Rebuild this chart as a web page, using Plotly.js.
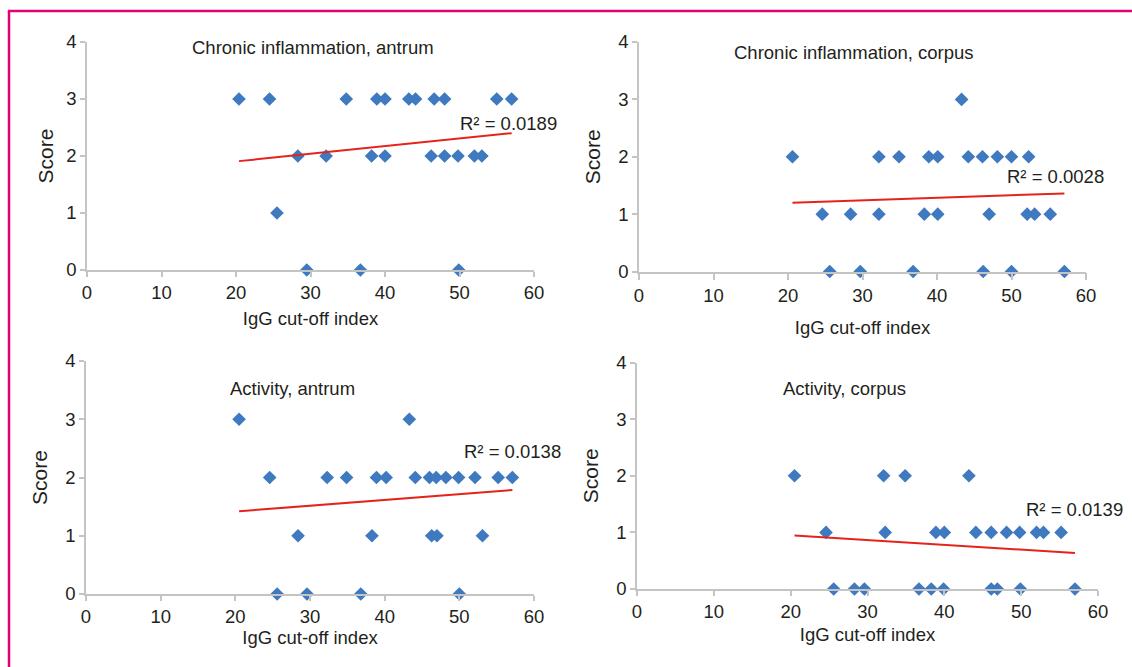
<!DOCTYPE html>
<html>
<head>
<meta charset="utf-8">
<script src="https://cdn.plot.ly/plotly-3.0.1.min.js"></script>
<style>
html,body{margin:0;padding:0;background:#fff;}
#chart{width:1132px;height:667px;}
</style>
</head>
<body>
<div id="chart"></div>
<script>
// ---- Data ----
const panelTitles = ["Chronic inflammation, antrum", "Chronic inflammation, corpus", "Activity, antrum", "Activity, corpus"];
const r2Labels = ["R\u00B2 = 0.0189", "R\u00B2 = 0.0028", "R\u00B2 = 0.0138", "R\u00B2 = 0.0139"];
const xTickVals = [0, 10, 20, 30, 40, 50, 60];
const yTickVals = [0, 1, 2, 3, 4];
const xAxisTitle = "IgG cut-off index";
const yAxisTitle = "Score";

// Chronic inflammation, antrum
const ciAntrumX = [20.4, 24.5, 34.8, 38.9, 40.0, 43.2, 44.1, 46.6, 48.0, 55.0, 57.0,
                   28.3, 32.1, 38.2, 40.0, 46.2, 48.0, 49.8, 52.0, 53.0,
                   25.5,
                   29.5, 36.7, 49.9];
const ciAntrumY = [3, 3, 3, 3, 3, 3, 3, 3, 3, 3, 3,
                   2, 2, 2, 2, 2, 2, 2, 2, 2,
                   1,
                   0, 0, 0];
const ciAntrumTrendX = [20.4, 57.0];
const ciAntrumTrendY = [1.91, 2.40];

// Chronic inflammation, corpus
const ciCorpusX = [43.3,
                   20.6, 32.2, 34.9, 38.9, 40.1, 44.2, 46.1, 48.1, 50.0, 52.3,
                   24.6, 28.4, 32.2, 38.3, 40.1, 47.0, 52.1, 53.1, 55.2,
                   25.6, 29.7, 36.8, 46.2, 50.0, 57.1];
const ciCorpusY = [3,
                   2, 2, 2, 2, 2, 2, 2, 2, 2, 2,
                   1, 1, 1, 1, 1, 1, 1, 1, 1,
                   0, 0, 0, 0, 0, 0];
const ciCorpusTrendX = [20.6, 57.1];
const ciCorpusTrendY = [1.20, 1.36];

// Activity, antrum
const actAntrumX = [20.5, 43.3,
                    24.6, 32.3, 34.9, 38.9, 40.2, 44.1, 46.0, 46.9, 48.2, 49.9, 52.1, 55.2, 57.1,
                    28.4, 38.3, 46.3, 47.0, 53.1,
                    25.6, 29.6, 36.8, 50.0];
const actAntrumY = [3, 3,
                    2, 2, 2, 2, 2, 2, 2, 2, 2, 2, 2, 2, 2,
                    1, 1, 1, 1, 1,
                    0, 0, 0, 0];
const actAntrumTrendX = [20.5, 57.1];
const actAntrumTrendY = [1.42, 1.785];

// Activity, corpus
const actCorpusX = [20.5, 32.1, 34.9, 43.2,
                    24.6, 32.3, 38.9, 40.0, 44.1, 46.1, 48.1, 49.8, 52.0, 52.9, 55.2,
                    25.6, 28.3, 29.6, 36.7, 38.3, 39.9, 46.1, 46.9, 49.9, 57.0];
const actCorpusY = [2, 2, 2, 2,
                    1, 1, 1, 1, 1, 1, 1, 1, 1, 1, 1,
                    0, 0, 0, 0, 0, 0, 0, 0, 0, 0];
const actCorpusTrendX = [20.5, 57.0];
const actCorpusTrendY = [0.944, 0.637];

// ---- Styling ----
const FONT = "Liberation Sans, Arial, Helvetica, sans-serif";
const markerColor = "#3f79bf";
const trendColor = "#e3241b";
const axisColor = "#c4c4c4";
const textColor = "#231f20";
const W = 1132, H = 667;

const panels = [
  {x: ciAntrumX, y: ciAntrumY, tx: ciAntrumTrendX, ty: ciAntrumTrendY},
  {x: ciCorpusX, y: ciCorpusY, tx: ciCorpusTrendX, ty: ciCorpusTrendY},
  {x: actAntrumX, y: actAntrumY, tx: actAntrumTrendX, ty: actAntrumTrendY},
  {x: actCorpusX, y: actCorpusY, tx: actCorpusTrendX, ty: actCorpusTrendY}
];

// pixel boxes of plot areas [left, right, top, bottom]
const boxes = [
  [87, 534, 42, 270],
  [639, 1086, 42, 271.5],
  [86, 534, 361, 594],
  [637, 1098, 362.5, 589]
];
const titlePos = [[313, 47], [854, 52], [292, 388], [844, 388]];
const r2Pos = [[458, 123], [1005, 176], [462, 452], [1024, 509]];
const xStandoff = [10, 16, 5, 7];
const yStandoff = [7, 12, 12, 12];
const xTickLen = [5, 7, 5, 5];

const traces = [];
const layout = {
  width: W, height: H,
  margin: {l: 0, r: 0, t: 0, b: 0},
  paper_bgcolor: "#ffffff",
  plot_bgcolor: "rgba(0,0,0,0)",
  showlegend: false,
  font: {family: FONT, color: textColor, size: 18},
  annotations: [],
  shapes: [
    {type: "line", xref: "paper", yref: "paper", x0: 9/W, x1: 9/W, y0: 0, y1: 1 - 11/H,
     line: {color: "#e2007a", width: 2.5}},
    {type: "line", xref: "paper", yref: "paper", x0: 9/W - 0.001, x1: 1, y0: 1 - 11/H, y1: 1 - 11/H,
     line: {color: "#e2007a", width: 2.5}}
  ]
};

panels.forEach((p, i) => {
  const n = i === 0 ? "" : String(i + 1);
  const xa = "x" + n, ya = "y" + n;
  traces.push({
    type: "scatter", mode: "markers", x: p.x, y: p.y, xaxis: xa, yaxis: ya,
    marker: {symbol: "diamond", size: 10.5, color: markerColor, line: {width: 0}},
    cliponaxis: false, hoverinfo: "x+y"
  });
  traces.push({
    type: "scatter", mode: "lines", x: p.tx, y: p.ty, xaxis: xa, yaxis: ya,
    line: {color: trendColor, width: 2}, cliponaxis: false, hoverinfo: "skip"
  });
  const b = boxes[i];
  layout["xaxis" + n] = {
    domain: [b[0] / W, b[1] / W], anchor: ya, range: [0, 60],
    tickmode: "array", tickvals: xTickVals, ticktext: xTickVals.map(String),
    showgrid: false, zeroline: false, showline: true, linecolor: axisColor, linewidth: 1.5,
    ticks: "outside", ticklen: xTickLen[i], tickcolor: axisColor, tickwidth: 1.5,
    tickfont: {family: FONT, size: 18.5, color: textColor},
    title: {text: xAxisTitle, font: {family: FONT, size: 18.5, color: textColor}, standoff: xStandoff[i]},
    fixedrange: true
  };
  layout["yaxis" + n] = {
    domain: [1 - b[3] / H, 1 - b[2] / H], anchor: xa, range: [0, 4],
    tickmode: "array", tickvals: yTickVals, ticktext: yTickVals.map(String),
    showgrid: false, zeroline: false, showline: true, linecolor: axisColor, linewidth: 1.5,
    ticks: "outside", ticklen: 5, tickcolor: axisColor, tickwidth: 1.5,
    tickfont: {family: FONT, size: 18.5, color: textColor},
    title: {text: yAxisTitle, font: {family: FONT, size: 21, color: textColor}, standoff: yStandoff[i]},
    fixedrange: true
  };
  layout.annotations.push({
    xref: "paper", yref: "paper", x: titlePos[i][0] / W, y: 1 - titlePos[i][1] / H,
    xanchor: "center", yanchor: "middle", showarrow: false, text: panelTitles[i],
    font: {family: FONT, size: 18.5, color: textColor}
  });
  layout.annotations.push({
    xref: "paper", yref: "paper", x: r2Pos[i][0] / W, y: 1 - r2Pos[i][1] / H,
    xanchor: "left", yanchor: "middle", showarrow: false, text: r2Labels[i],
    font: {family: FONT, size: 18.5, color: textColor}
  });
});

Plotly.newPlot("chart", traces, layout, {displayModeBar: false});
</script>
</body>
</html>
